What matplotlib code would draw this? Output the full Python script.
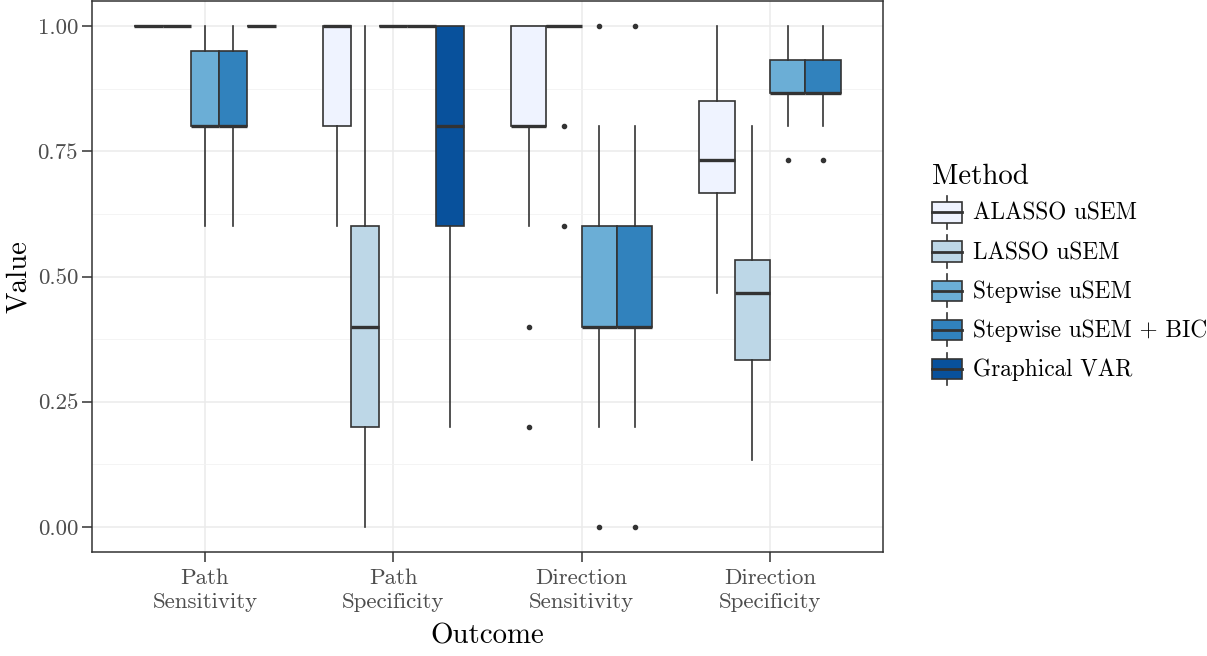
import numpy as np
import matplotlib.pyplot as plt
from matplotlib.patches import Rectangle
from matplotlib.lines import Line2D
from matplotlib.legend_handler import HandlerBase

plt.rcParams['font.family'] = 'cmr10'
plt.rcParams['axes.formatter.use_mathtext'] = True

outcomes = ["Path\nSensitivity", "Path\nSpecificity",
            "Direction\nSensitivity", "Direction\nSpecificity"]
methods = ["ALASSO uSEM", "LASSO uSEM", "Stepwise uSEM",
           "Stepwise uSEM + BIC", "Graphical VAR"]
colors = ["#EFF3FF", "#BDD7E7", "#6BAED6", "#3182BD", "#08519C"]

# (lower whisker, q1, median, q3, upper whisker) per outcome; None = not estimated
alasso = [(1.0, 1.0, 1.0, 1.0, 1.0), (0.6, 0.8, 1.0, 1.0, 1.0),
          (0.6, 0.8, 0.8, 1.0, 1.0), (0.467, 0.667, 0.733, 0.85, 1.0)]
lasso = [(1.0, 1.0, 1.0, 1.0, 1.0), (0.0, 0.2, 0.4, 0.6, 1.0),
         (1.0, 1.0, 1.0, 1.0, 1.0), (0.133, 0.333, 0.467, 0.533, 0.8)]
stepwise = [(0.6, 0.8, 0.8, 0.95, 1.0), (1.0, 1.0, 1.0, 1.0, 1.0),
            (0.2, 0.4, 0.4, 0.6, 0.8), (0.8, 0.867, 0.867, 0.933, 1.0)]
stepwise_bic = [(0.6, 0.8, 0.8, 0.95, 1.0), (1.0, 1.0, 1.0, 1.0, 1.0),
                (0.2, 0.4, 0.4, 0.6, 0.8), (0.8, 0.867, 0.867, 0.933, 1.0)]
gvar = [(1.0, 1.0, 1.0, 1.0, 1.0), (0.2, 0.6, 0.8, 1.0, 1.0), None, None]

alasso_out = [[], [], [0.4, 0.2], []]
lasso_out = [[], [], [0.8, 0.6], []]
stepwise_out = [[], [], [1.0, 0.0], [0.733]]
stepwise_bic_out = [[], [], [1.0, 0.0], [0.733]]
gvar_out = [[], [], [], []]

series = [alasso, lasso, stepwise, stepwise_bic, gvar]
outliers = [alasso_out, lasso_out, stepwise_out, stepwise_bic_out, gvar_out]

EDGE = "#333333"
LW = 1.2

fig = plt.figure(figsize=(12.07, 6.56), dpi=100)
ax = fig.add_axes([92 / 1207, 104 / 656, 791 / 1207, 551 / 656])

for i in range(len(outcomes)):
    present = [m for m in range(len(methods)) if series[m][i] is not None]
    w = 0.75 / len(present)
    for k, m in enumerate(present):
        lo, q1, med, q3, hi = series[m][i]
        st = dict(whislo=lo, q1=q1, med=med, q3=q3, whishi=hi,
                  fliers=outliers[m][i])
        pos = i + 1 - 0.375 + w * (k + 0.5)
        ax.bxp([st], positions=[pos], widths=w, patch_artist=True,
               showcaps=False, manage_ticks=False,
               boxprops=dict(facecolor=colors[m], edgecolor=EDGE, linewidth=LW),
               whiskerprops=dict(color=EDGE, linewidth=LW),
               medianprops=dict(color=EDGE, linewidth=2.4, solid_capstyle='butt'),
               flierprops=dict(marker='o', markersize=3, markerfacecolor=EDGE,
                               markeredgecolor=EDGE))

ax.set_xlim(0.4, 4.6)
ax.set_ylim(-0.05, 1.05)
ax.set_xticks(range(1, 5), outcomes)
ax.set_yticks([0, 0.25, 0.5, 0.75, 1.0], ["0.00", "0.25", "0.50", "0.75", "1.00"])
ax.set_yticks([0.125, 0.375, 0.625, 0.875], minor=True)
ax.tick_params(which='major', length=7, width=1.1, color=EDGE,
               labelcolor="#4D4D4D", labelsize=16.5, pad=3)
ax.tick_params(axis='x', pad=5)
ax.tick_params(which='minor', length=0)
for lbl in ax.get_xticklabels():
    lbl.set_linespacing(1.25)

ax.set_axisbelow(True)
ax.grid(which='major', color="#EBEBEB", linewidth=1.1)
ax.grid(which='minor', axis='y', color="#F2F2F2", linewidth=0.6)
for s in ax.spines.values():
    s.set_color(EDGE)
    s.set_linewidth(1.1)

ax.set_xlabel("Outcome", fontsize=20.8, labelpad=8)
ax.set_ylabel("Value", fontsize=20.8, labelpad=4)


class BoxKey(HandlerBase):
    def create_artists(self, legend, orig_handle, xdescent, ydescent,
                       width, height, fontsize, trans):
        fc = orig_handle.get_facecolor()
        x0, y0 = -xdescent, -ydescent
        bh = height * 0.62
        by = y0 + (height - bh) / 2
        box = Rectangle((x0, by), width, bh, facecolor=fc, edgecolor=EDGE,
                        linewidth=LW, transform=trans)
        xm = x0 + width / 2
        med = Line2D([x0, x0 + width], [y0 + height / 2] * 2, color=EDGE,
                     linewidth=2.0, transform=trans)
        w1 = Line2D([xm, xm], [y0, by], color=EDGE, linewidth=LW, transform=trans)
        w2 = Line2D([xm, xm], [by + bh, y0 + height], color=EDGE,
                    linewidth=LW, transform=trans)
        return [w1, w2, box, med]


handles = [Rectangle((0, 0), 1, 1, facecolor=c) for c in colors]
leg = fig.legend(handles, methods, handler_map={Rectangle: BoxKey()},
                 loc='center left', bbox_to_anchor=(0.7645, 0.582),
                 frameon=False, fontsize=16.8, title="Method",
                 title_fontsize=20.8, alignment='left',
                 handlelength=1.3, handleheight=1.77, handletextpad=0.45,
                 labelspacing=0.28, borderaxespad=0)

fig.savefig("out.png", dpi=100)
